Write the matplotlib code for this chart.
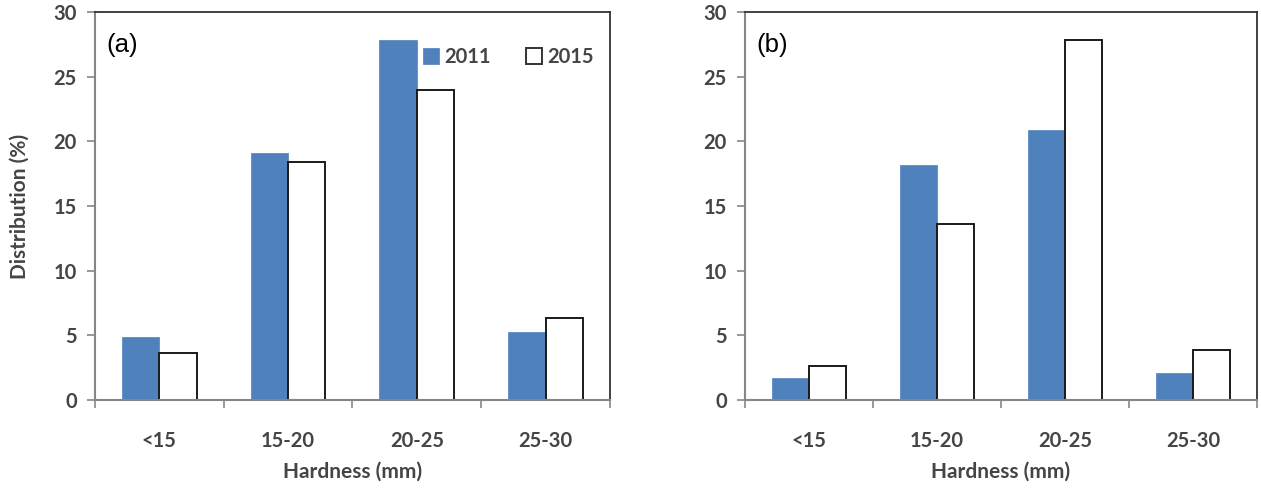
import matplotlib.pyplot as plt
import numpy as np
from matplotlib.patches import Patch

plt.rcParams['font.family'] = ['Lato', 'DejaVu Sans']

categories = ['<15', '15-20', '20-25', '25-30']
years = ['2011', '2015']

# panel (a)
a_2011 = [4.85, 19.1, 27.8, 5.25]
a_2015 = [3.6, 18.4, 24.0, 6.35]
# panel (b)
b_2011 = [1.7, 18.2, 20.85, 2.1]
b_2015 = [2.6, 13.6, 27.8, 3.85]

BLUE = '#4F81BD'
TXT = '#454545'
GRID = '#868686'


def draw_panel(ax, v2011, v2015, tag, legend=False, ylabel=None):
    x = np.arange(len(categories))
    w = 0.29
    ax.bar(x - w / 2, v2011, w, color=BLUE, edgecolor=BLUE, linewidth=0.5)
    ax.bar(x + w / 2, v2015, w, color='white', edgecolor='#1a1a1a', linewidth=1.4)

    ax.set_xlim(-0.5, len(categories) - 0.5)
    ax.set_ylim(0, 30)
    ax.set_yticks(np.arange(0, 31, 5))
    ax.set_xticks(x)
    ax.set_xticklabels(categories)
    # excel-style ticks between categories
    ax.set_xticks(np.arange(-0.5, len(categories), 1.0), minor=True)
    ax.tick_params(axis='x', which='major', length=0, pad=22)
    ax.tick_params(axis='x', which='minor', length=6, width=1.2, color=GRID, direction='out')
    ax.tick_params(axis='y', length=6, width=1.2, color=GRID, direction='out', pad=7)
    for lab in ax.get_xticklabels() + ax.get_yticklabels():
        lab.set_fontsize(14.5)
        lab.set_color(TXT)
        lab.set_fontweight('bold')

    ax.spines['left'].set_color(GRID)
    ax.spines['bottom'].set_color(GRID)
    ax.spines['left'].set_linewidth(1.5)
    ax.spines['bottom'].set_linewidth(1.5)
    ax.spines['top'].set_color('#333333')
    ax.spines['right'].set_color('#333333')
    ax.spines['top'].set_linewidth(1.3)
    ax.spines['right'].set_linewidth(1.3)

    ax.set_xlabel('Hardness (mm)', fontsize=15, fontweight='bold', color=TXT, labelpad=8)
    if ylabel:
        ax.set_ylabel(ylabel, fontsize=15, fontweight='bold', color=TXT, labelpad=17)
    ax.text(0.022, 0.915, tag, transform=ax.transAxes, fontsize=18.5, color='black',
            family=['Liberation Sans', 'DejaVu Sans'], va='center')

    if legend:
        handles = [Patch(facecolor=BLUE, edgecolor=BLUE, linewidth=0.5),
                   Patch(facecolor='white', edgecolor='#333333', linewidth=1.4)]
        leg = ax.legend(handles, years, ncol=2, frameon=False, loc='center',
                        bbox_to_anchor=(0.803, 0.884), fontsize=14.5, handlelength=0.8,
                        handleheight=0.8, handletextpad=0.25, columnspacing=1.75)
        for t in leg.get_texts():
            t.set_color(TXT)
            t.set_fontweight('bold')


fig = plt.figure(figsize=(12.61, 4.92), dpi=100)
ax1 = fig.add_axes([0.0753, 0.187, 0.4084, 0.7886])
ax2 = fig.add_axes([0.5908, 0.187, 0.4060, 0.7886])

draw_panel(ax1, a_2011, a_2015, '(a)', legend=True, ylabel='Distribution (%)')
draw_panel(ax2, b_2011, b_2015, '(b)')

fig.savefig('out.png', dpi=100)
